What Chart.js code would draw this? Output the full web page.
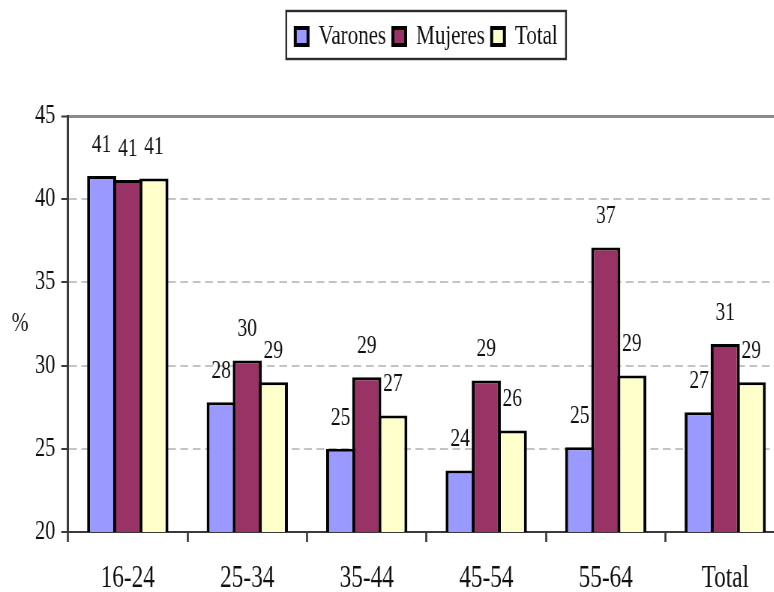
<!DOCTYPE html>
<html>
<head>
<meta charset="utf-8">
<script src="https://cdn.jsdelivr.net/npm/chart.js@4/dist/chart.umd.min.js"></script>
<style>
  html, body { margin: 0; padding: 0; background: #fff; overflow: hidden; }
  #wrap { width: 774px; height: 592px; overflow: hidden; }
</style>
</head>
<body>
<!-- the bitmap is drawn wide and shown narrow, giving the condensed serif look -->
<div id="wrap"><canvas id="c" width="1047" height="592" style="width:785.25px;height:592px;display:block"></canvas></div>
<script>
// Age groups and the percentage for each group
const categories = ['16-24', '25-34', '35-44', '45-54', '55-64', 'Total'];
const varones = [41.4, 27.8, 25.0, 23.7, 25.1, 27.2];
const mujeres = [41.15, 30.3, 29.3, 29.1, 37.1, 31.3];
const total   = [41.25, 29.0, 27.0, 26.1, 29.4, 29.0];
const seriesNames = ['Varones', 'Mujeres', 'Total'];
const yMin = 20, yMax = 45, yStep = 5;
const yUnit = '%';

const SERIF = "'Liberation Serif', 'Times New Roman', serif";
const INK = '#111';
const AXIS = '#3a3a3a';
const BORDER_SIDE = 4;   // vertical edges, wider because the canvas is shown condensed
const BORDER_TOP = 3;

// Each bar is wider than its slot by one border width, so neighbouring bars share one edge
const SLOT = 0.655;
const barFrac = 1.115;

// Draws the rounded value above each bar
const valueLabels = {
  id: 'valueLabels',
  afterDatasetsDraw(chart) {
    const ctx = chart.ctx;
    ctx.save();
    ctx.font = '26px ' + SERIF;
    ctx.fillStyle = INK;
    ctx.textAlign = 'center';
    ctx.textBaseline = 'middle';
    chart.data.datasets.forEach((ds, i) => {
      chart.getDatasetMeta(i).data.forEach((bar, j) => {
        ctx.fillText(String(Math.round(ds.data[j])), bar.x, bar.y - 31);
      });
    });
    ctx.restore();
  }
};

// Upright unit label left of the value axis, plus a frame round the legend
const decorations = {
  id: 'decorations',
  afterInit(chart) {
    const lg = chart.legend;
    const baseFit = lg.fit.bind(lg);
    lg.fit = function () { baseFit(); this.height = 102.5; };
  },
  afterDraw(chart) {
    const ctx = chart.ctx;
    const area = chart.chartArea;
    ctx.save();
    ctx.font = '27px ' + SERIF;
    ctx.fillStyle = INK;
    ctx.textAlign = 'center';
    ctx.textBaseline = 'middle';
    ctx.fillText(yUnit, area.left - 64, (area.top + area.bottom) / 2);

    const hb = chart.legend.legendHitBoxes;
    if (hb && hb.length) {
      const last = hb[hb.length - 1];
      const x1 = hb[0].left - 12;
      const x2 = last.left + last.width + 11;
      const y1 = hb[0].top - 11.5;
      const y2 = hb[0].top + hb[0].height + 8.5;
      ctx.strokeStyle = '#2a2a2a';
      ctx.lineWidth = 2.4;
      ctx.strokeRect(x1, y1, x2 - x1, y2 - y1);
    }
    ctx.restore();
  }
};

const borderSpec = { top: BORDER_TOP, left: BORDER_SIDE, right: BORDER_SIDE, bottom: 0 };

new Chart(document.getElementById('c'), {
  type: 'bar',
  data: {
    labels: categories,
    datasets: [
      { label: seriesNames[0], data: varones, backgroundColor: '#9999FF' },
      { label: seriesNames[1], data: mujeres, backgroundColor: '#993366' },
      { label: seriesNames[2], data: total,   backgroundColor: '#FFFFCC' }
    ].map(d => Object.assign(d, {
      borderColor: '#000',
      borderWidth: borderSpec,
      categoryPercentage: SLOT,
      barPercentage: barFrac
    }))
  },
  options: {
    responsive: false,
    devicePixelRatio: 1,
    animation: false,
    layout: { padding: { top: 13.5, left: 0, right: 0, bottom: 0 } },
    plugins: {
      legend: {
        position: 'top',
        fullSize: false,
        labels: {
          font: { family: SERIF, size: 28 },
          color: INK,
          boxWidth: 17,
          boxHeight: 17,
          padding: 9,
          generateLabels(chart) {
            return Chart.defaults.plugins.legend.labels.generateLabels(chart)
              .map(item => Object.assign(item, { lineWidth: 4 }));
          }
        }
      },
      tooltip: { enabled: false }
    },
    scales: {
      x: {
        afterFit(scale) { scale.height = 60; },
        grid: {
          offset: true,
          drawOnChartArea: false,
          drawTicks: true,
          tickLength: 10,
          tickColor: AXIS,
          tickWidth: 2.7
        },
        border: { display: true, color: AXIS, width: 2 },
        ticks: {
          font: { family: SERIF, size: 31 },
          color: INK,
          padding: 18,
          maxRotation: 0
        }
      },
      y: {
        min: yMin,
        max: yMax,
        afterFit(scale) { scale.width = 90.7; },
        ticks: {
          stepSize: yStep,
          font: { family: SERIF, size: 27 },
          color: INK,
          padding: 8
        },
        grid: {
          color: c => c.tick && c.tick.value === yMin ? 'rgba(0,0,0,0)'
                 : (c.tick && c.tick.value === yMax ? '#8a8a8a' : '#c4c4c4'),
          lineWidth: c => c.tick && c.tick.value === yMax ? 3 : 2,
          drawTicks: true,
          tickLength: 9,
          tickColor: AXIS,
          tickWidth: 2,
          tickBorderDash: []
        },
        border: {
          display: true,
          color: AXIS,
          width: 3,
          dash: c => (!c.tick || c.tick.value === yMin || c.tick.value === yMax) ? [] : [10.5, 6]
        }
      }
    }
  },
  plugins: [valueLabels, decorations]
});
</script>
</body>
</html>
